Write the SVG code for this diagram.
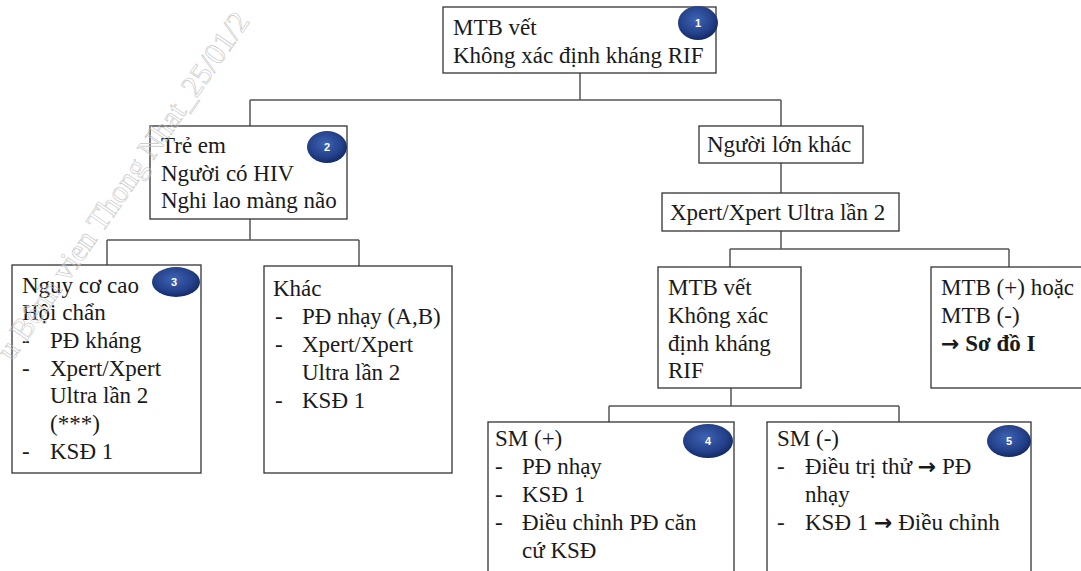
<svg xmlns="http://www.w3.org/2000/svg" width="1081" height="571" viewBox="0 0 1081 571">
<defs>
<radialGradient id="bg" cx="45%" cy="40%" r="60%">
<stop offset="0" stop-color="#3f63b3"/>
<stop offset="0.7" stop-color="#23408a"/>
<stop offset="1" stop-color="#152a60"/>
</radialGradient>
<style>
.box{fill:#fff;stroke:#333;stroke-width:1.3}
.t{font-family:"Liberation Serif","Times New Roman",serif;font-size:23px;fill:#1a1a1a}
.b{font-weight:bold}
.ar{font-family:"DejaVu Sans",sans-serif;font-weight:bold;font-size:22px}
.badge{fill:url(#bg)}
.num{font-family:"Liberation Sans",Arial,sans-serif;font-size:11px;font-weight:bold;fill:#fff;text-anchor:middle}
.conn{fill:none;stroke:#555;stroke-width:1.5}
.wm{font-family:"Liberation Serif","Times New Roman",serif;font-size:31px;fill:none;stroke:#c4c4c4;stroke-width:0.6}
</style>
</defs>
<rect width="1081" height="571" fill="#fff"/>
<g id="connectors" class="conn">
<path d="M580 73 V100 M250 100 H781 M250 100 V126 M781 100 V126"/>
<path d="M250 219 V240 M107 240 H359 M107 240 V265 M359 240 V266"/>
<path d="M781 163 V193 M781 231 V249 M730 249 H1009 M730 249 V267 M1009 249 V267"/>
<path d="M731 388 V406 M609 406 H899 M609 406 V422 M899 406 V422"/>
</g>
<g id="n1">
<rect class="box" x="443" y="7" width="273" height="66"/>
<text class="t" x="453" y="35">MTB vết</text>
<text class="t" x="453" y="63">Không xác định kháng RIF</text>
<ellipse class="badge" cx="698" cy="23" rx="20" ry="17"/>
<text class="num" x="698" y="27">1</text>
</g>
<g id="n2">
<rect class="box" x="150" y="126" width="197" height="93"/>
<text class="t" x="161" y="153">Trẻ em</text>
<text class="t" x="161" y="181">Người có HIV</text>
<text class="t" x="161" y="208">Nghi lao màng não</text>
<ellipse class="badge" cx="327" cy="147" rx="20" ry="16"/>
<text class="num" x="327" y="151">2</text>
</g>
<g id="n3">
<rect class="box" x="12" y="265" width="189" height="208"/>
<text class="t" x="22" y="293">Nguy cơ cao</text>
<text class="t" x="22" y="320">Hội chẩn</text>
<text class="t" x="22" y="348">-</text><text class="t" x="50" y="348">PĐ  kháng</text>
<text class="t" x="22" y="376">-</text><text class="t" x="50" y="376">Xpert/Xpert</text>
<text class="t" x="50" y="403">Ultra lần 2</text>
<text class="t" x="50" y="431">(***)</text>
<text class="t" x="22" y="459">-</text><text class="t" x="50" y="459">KSĐ 1</text>
<ellipse class="badge" cx="176" cy="282" rx="24" ry="15"/>
<text class="num" x="174" y="286">3</text>
</g>
<g id="n4">
<rect class="box" x="264" y="266" width="188" height="207"/>
<text class="t" x="273" y="296">Khác</text>
<text class="t" x="275" y="324">-</text><text class="t" x="302" y="324">PĐ nhạy (A,B)</text>
<text class="t" x="275" y="352">-</text><text class="t" x="302" y="352">Xpert/Xpert</text>
<text class="t" x="302" y="380">Ultra lần 2</text>
<text class="t" x="275" y="408">-</text><text class="t" x="302" y="408">KSĐ 1</text>
</g>
<g id="n5">
<rect class="box" x="699" y="126" width="164" height="37"/>
<text class="t" x="707" y="152">Người lớn khác</text>
</g>
<g id="n6">
<rect class="box" x="662" y="193" width="237" height="38"/>
<text class="t" x="670" y="220">Xpert/Xpert Ultra lần 2</text>
</g>
<g id="n7">
<rect class="box" x="658" y="267" width="143" height="121"/>
<text class="t" x="668" y="295">MTB vết</text>
<text class="t" x="668" y="323">Không xác</text>
<text class="t" x="668" y="351">định kháng</text>
<text class="t" x="668" y="378">RIF</text>
</g>
<g id="n8">
<rect class="box" x="931" y="267" width="160" height="121"/>
<text class="t" x="941" y="295">MTB (+) hoặc</text>
<text class="t" x="941" y="323">MTB (-)</text>
<text class="t b" x="941" y="351"><tspan class="ar">→</tspan> Sơ đồ I</text>
</g>
<g id="n9">
<rect class="box" x="488" y="422" width="246" height="160"/>
<text class="t" x="495" y="446">SM (+)</text>
<text class="t" x="495" y="474">-</text><text class="t" x="522" y="474">PĐ nhạy</text>
<text class="t" x="495" y="502">-</text><text class="t" x="522" y="502">KSĐ 1</text>
<text class="t" x="495" y="530">-</text><text class="t" x="522" y="530">Điều chỉnh PĐ căn</text>
<text class="t" x="522" y="558">cứ KSĐ</text>
<ellipse class="badge" cx="708" cy="441" rx="25" ry="17"/>
<text class="num" x="708" y="445">4</text>
</g>
<g id="n10">
<rect class="box" x="767" y="422" width="264" height="160"/>
<text class="t" x="777" y="446">SM (-)</text>
<text class="t" x="777" y="474">-</text><text class="t" x="805" y="474">Điều trị thử <tspan class="ar">→</tspan> PĐ</text>
<text class="t" x="805" y="502">nhạy</text>
<text class="t" x="777" y="530">-</text><text class="t" x="805" y="530">KSĐ 1 <tspan class="ar">→</tspan> Điều chỉnh</text>
<ellipse class="badge" cx="1009" cy="441" rx="22" ry="16"/>
<text class="num" x="1009" y="445">5</text>
</g>
<text class="wm" transform="translate(12 362) rotate(-55)">u Bệnh vien Thong Nhat_25/01/2</text>
</svg>
